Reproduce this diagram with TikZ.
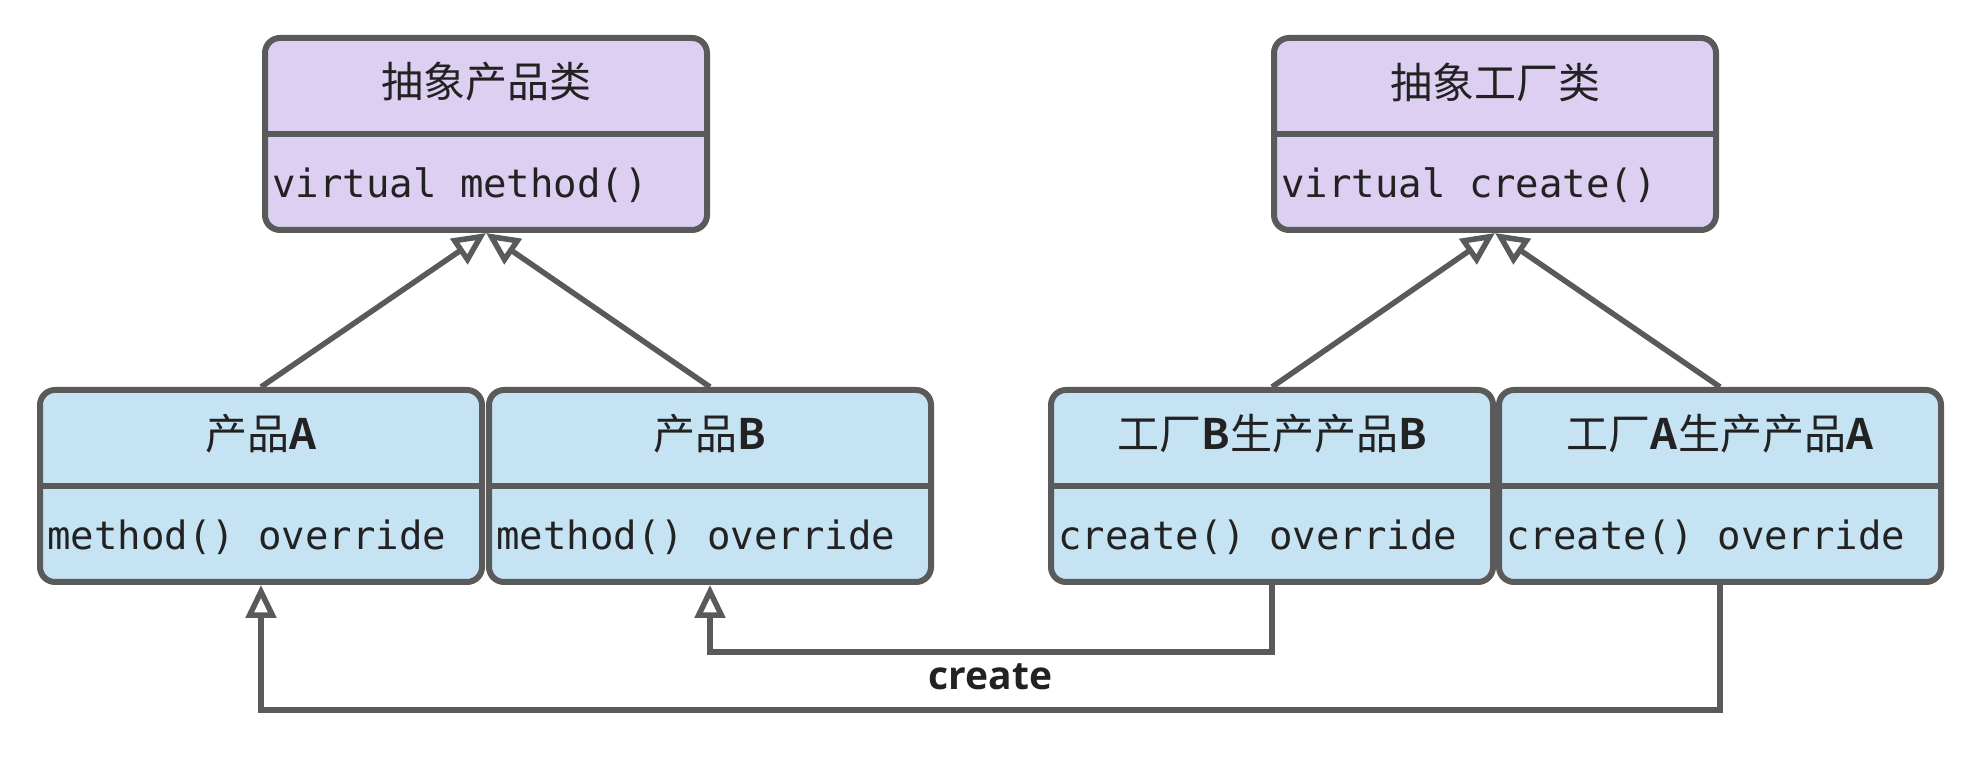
\documentclass[tikz,border=0pt]{standalone}
\usepackage{fontspec}
\newfontfamily\cjkfont{Noto Sans CJK SC}[BoldFont={Noto Sans CJK SC Bold}]
\newfontfamily\codefont{DejaVu Sans Mono}
\newfontfamily\labelfont{Open Sans}
\usetikzlibrary{arrows.meta, positioning}

\definecolor{absfill}{HTML}{DCCFF2}
\definecolor{prodfill}{HTML}{C6E3F4}
\definecolor{linegray}{HTML}{5A5A5A}
\definecolor{textdark}{HTML}{222222}

\begin{document}
\begin{tikzpicture}[x=1pt,y=1pt,on grid,
    classbox/.style={draw=linegray,line width=6pt,rounded corners=15pt,minimum width=442pt,minimum height=192pt,inner sep=0pt},
    divider/.style={draw=linegray,line width=6pt},
    classtitle/.style={font=\cjkfont\fontsize{42}{50}\selectfont,text=textdark,inner sep=0pt},
    classmethod/.style={font=\codefont\fontsize{39}{46}\selectfont,text=textdark,inner sep=0pt,anchor=west},
    inherit/.style={draw=linegray,line width=5.5pt,-{Triangle[open,length=33pt,width=30pt,fill=white]}},
    createlabel/.style={font=\labelfont\bfseries\fontsize{39}{46}\selectfont,text=textdark,inner sep=0pt}]
  \useasboundingbox (0,0) rectangle (1980,762);

  % abstract classes
  \node[classbox,fill=absfill] (absProd) at (486,628) {};
  \node[classbox,fill=absfill] (absFact) at (1495,628) {};

  % concrete classes
  \node[classbox,fill=prodfill] (prodA) at (261,276) {};
  \node[classbox,fill=prodfill] (prodB) [right=449pt of prodA] {};
  \node[classbox,fill=prodfill] (factB) [right=562pt of prodB] {};
  \node[classbox,fill=prodfill] (factA) [right=448pt of factB] {};

  \draw[divider] (absProd.west) -- (absProd.east);
  \draw[divider] (absFact.west) -- (absFact.east);
  \draw[divider] (prodA.west) -- (prodA.east);
  \draw[divider] (prodB.west) -- (prodB.east);
  \draw[divider] (factB.west) -- (factB.east);
  \draw[divider] (factA.west) -- (factA.east);

  \node[classtitle] (absProdTitle) at ([yshift=52pt]absProd.center) {抽象产品类};
  \node[classmethod] (absProdMethod) at ([xshift=10pt,yshift=-51pt]absProd.west) {virtual method()};
  \node[classtitle] (absFactTitle) at ([yshift=52pt]absFact.center) {抽象工厂类};
  \node[classmethod] (absFactMethod) at ([xshift=10pt,yshift=-51pt]absFact.west) {virtual create()};
  \node[classtitle] (prodATitle) at ([yshift=52pt]prodA.center) {产品\textbf{A}};
  \node[classmethod] (prodAMethod) at ([xshift=10pt,yshift=-51pt]prodA.west) {method() override};
  \node[classtitle] (prodBTitle) at ([yshift=52pt]prodB.center) {产品\textbf{B}};
  \node[classmethod] (prodBMethod) at ([xshift=10pt,yshift=-51pt]prodB.west) {method() override};
  \node[classtitle] (factBTitle) at ([yshift=52pt]factB.center) {工厂\textbf{B}生产产品\textbf{B}};
  \node[classmethod] (factBMethod) at ([xshift=10pt,yshift=-51pt]factB.west) {create() override};
  \node[classtitle] (factATitle) at ([yshift=52pt]factA.center) {工厂\textbf{A}生产产品\textbf{A}};
  \node[classmethod] (factAMethod) at ([xshift=10pt,yshift=-51pt]factA.west) {create() override};

  % inheritance
  \draw[inherit] (prodA.north) -- (absProd.south);
  \draw[inherit] (prodB.north) -- (absProd.south);
  \draw[inherit] (factB.north) -- (absFact.south);
  \draw[inherit] (factA.north) -- (absFact.south);

  % factories create products
  \draw[inherit] (factB.south) -- ++(0,-67) -| (prodB.south);
  \draw[inherit] (factA.south) -- ++(0,-125) -| node[createlabel,pos=0.25,above=17pt] (createLbl) {create} (prodA.south);
\end{tikzpicture}
\end{document}
